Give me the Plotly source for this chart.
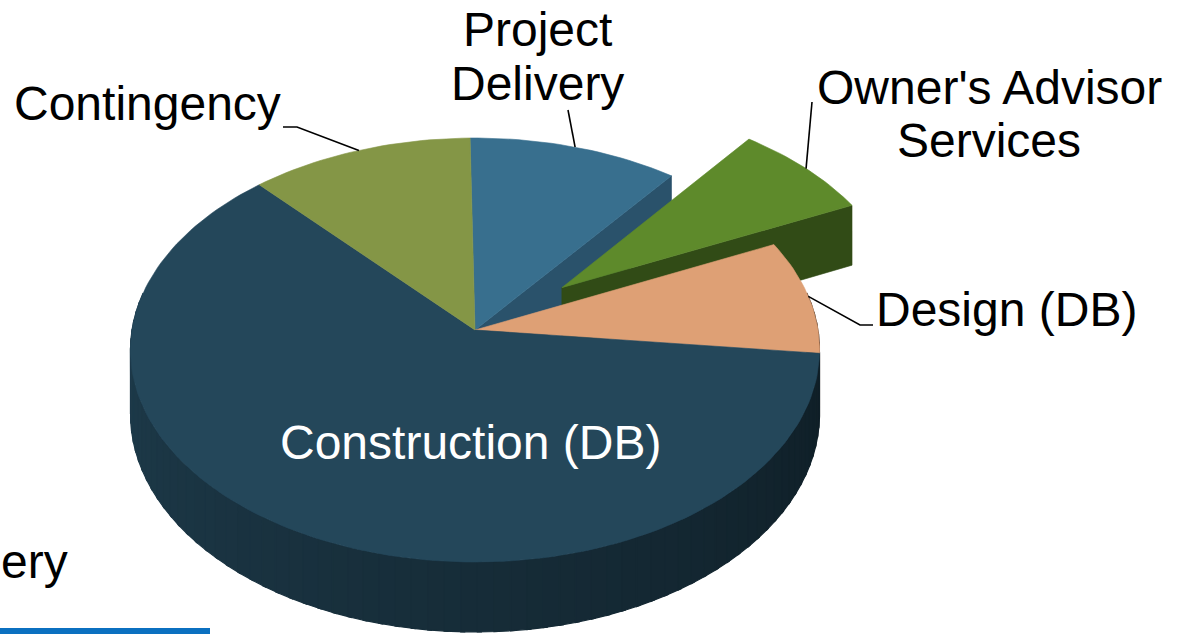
import numpy as np
import plotly.graph_objects as go

# ---------------- data ----------------
categories = ["Project Delivery", "Owner's Advisor Services", "Design (DB)",
              "Construction (DB)", "Contingency"]
shares = [10.8, 7.5, 8.7, 61.5, 11.5]          # percent of total budget
label_lines = [["Project", "Delivery"], ["Owner's Advisor", "Services"],
               ["Design (DB)"], ["Construction (DB)"], ["Contingency"]]

# ---------------- style ----------------
top_colors = ["#386f8e", "#5e8a2b", "#dea075", "#24475a", "#849646"]
face_colors = ["#2a526b", "#314b16", "#a87a58", "#1a3443", "#5f6d32"]
pulls = [0, 0.33, 0, 0, 0]
START = 90.9             # degrees, first slice edge (counter-clockwise from 3 o'clock)
CX, CY = 475.0, 330.0    # pixel position of pie centre
A, B, K, H = 343.0, 210.1, 0.0943, 63.4   # projection / depth parameters
FONT = "Liberation Sans, Arial, sans-serif"
FS = 48

label_layout = {
    "Project Delivery": dict(x=537, ys=[29.5, 83.5], leader=[(568, 110)]),
    "Owner's Advisor Services": dict(x=989, ys=[87.5, 140.5], leader=[(812, 102)]),
    "Design (DB)": dict(x=1006, ys=[309.5], leader=[(860, 325), (873, 325)]),
    "Construction (DB)": dict(x=470, ys=[442.5], leader=None, color="white"),
    "Contingency": dict(x=147, ys=[103.5], leader=[(297, 127), (283, 127)]),
}


def proj(X, Y, h=0.0):
    X = np.asarray(X, float)
    Y = np.asarray(Y, float)
    w = 1 + K * Y
    return CX + A * X / w, CY - B * Y / w + H * h / w


def arc(t0, t1, off, n=None):
    if n is None:
        n = max(3, int(abs(t1 - t0) / 1.5) + 2)
    t = np.radians(np.linspace(t0, t1, n))
    return off[0] + np.cos(t), off[1] + np.sin(t)


def shade(hexc, f):
    hexc = hexc.lstrip("#")
    r, g, b = (int(hexc[i:i + 2], 16) for i in (0, 2, 4))
    return "rgb(%d,%d,%d)" % (r * f, g * f, b * f)


fig = go.Figure()


def poly(xs, ys, color, lw=0.6):
    xs = list(xs) + [xs[0]]
    ys = list(ys) + [ys[0]]
    fig.add_trace(go.Scatter(x=xs, y=ys, mode="lines", fill="toself",
                             fillcolor=color, line=dict(color=color, width=lw),
                             hoverinfo="skip", showlegend=False))


total = float(sum(shares))
spans = []
acc = 0.0
for s in shares:
    a0 = START - acc * 360 / total
    a1 = a0 - s * 360 / total
    spans.append((a1, a0))
    acc += s
offsets = []
for (a1, a0), p in zip(spans, pulls):
    m = np.radians((a0 + a1) / 2)
    offsets.append((p * np.cos(m), p * np.sin(m)))

n = len(shares)


def radial_face(i, ang, color):
    off = offsets[i]
    t = np.radians(ang)
    X = [off[0], off[0] + np.cos(t), off[0] + np.cos(t), off[0]]
    Y = [off[1], off[1] + np.sin(t), off[1] + np.sin(t), off[1]]
    hh = [0, 0, 1, 1]
    sx, sy = zip(*[proj(x, y, h) for x, y, h in zip(X, Y, hh)])
    poly([float(v) for v in sx], [float(v) for v in sy], color)


def top_face(i):
    a1, a0 = spans[i]
    off = offsets[i]
    ax, ay = arc(a0, a1, off)
    X = np.concatenate([[off[0]], ax])
    Y = np.concatenate([[off[1]], ay])
    sx, sy = proj(X, Y, 0)
    poly(sx, sy, top_colors[i])


def outer_wall(i, t0, t1, color):
    off = offsets[i]
    ax, ay = arc(t0, t1, off)
    sx0, sy0 = proj(ax, ay, 0)
    sx1, sy1 = proj(ax, ay, 1)
    poly(np.concatenate([sx0, sx1[::-1]]), np.concatenate([sy0, sy1[::-1]]), color, lw=1.2)


# 1. exposed radial faces of fixed slices next to a pulled slice
for i in range(n):
    if pulls[i]:
        continue
    a1, a0 = spans[i]
    if pulls[(i + 1) % n] and np.cos(np.radians(a1)) > 0:
        radial_face(i, a1, face_colors[i])
    if pulls[(i - 1) % n] and np.cos(np.radians(a0)) < 0:
        radial_face(i, a0, face_colors[i])

# 2. pulled slices
for i in range(n):
    if not pulls[i]:
        continue
    a1, a0 = spans[i]
    if np.cos(np.radians(a1)) > 0:
        radial_face(i, a1, face_colors[i])
    if np.cos(np.radians(a0)) < 0:
        radial_face(i, a0, face_colors[i])
    top_face(i)

# 3. front walls of fixed slices (shaded from left to right)
FRONT = (-190.0, 10.0)
for i in range(n):
    if pulls[i]:
        continue
    a1, a0 = spans[i]
    for k in (-1, 0, 1):
        lo = max(a1 + 360 * k, FRONT[0])
        hi = min(a0 + 360 * k, FRONT[1])
        if hi <= lo:
            continue
        nseg = max(1, int((hi - lo) / 2.5))
        edges = np.linspace(lo, hi, nseg + 1)
        for s0, s1 in zip(edges[:-1], edges[1:]):
            mid = (s0 + s1) / 2
            f = 0.86 - 0.46 * (mid - FRONT[0]) / (FRONT[1] - FRONT[0])
            outer_wall(i, s0 - 0.3, s1 + 0.3, shade(top_colors[i], f))

# 4. top faces of fixed slices
for i in range(n):
    if not pulls[i]:
        top_face(i)

# 5. labels and leader lines
annotations = []
for i, cat in enumerate(categories):
    cfg = label_layout[cat]
    for line, yy in zip(label_lines[i], cfg["ys"]):
        annotations.append(dict(x=cfg["x"], y=yy, xref="x", yref="y", text=line,
                                showarrow=False, xanchor="center", yanchor="middle",
                                font=dict(family=FONT, size=FS,
                                          color=cfg.get("color", "black"))))
    if cfg["leader"]:
        a1, a0 = spans[i]
        m = np.radians((a0 + a1) / 2)
        off = offsets[i]
        px, py = proj(off[0] + np.cos(m), off[1] + np.sin(m), 0)
        xs = [float(px)] + [p[0] for p in cfg["leader"]]
        ys = [float(py)] + [p[1] for p in cfg["leader"]]
        fig.add_trace(go.Scatter(x=xs, y=ys, mode="lines",
                                 line=dict(color="black", width=1.6),
                                 hoverinfo="skip", showlegend=False))

# fragments of the surrounding slide
annotations.append(dict(x=0, y=561, xref="x", yref="y", text="ery", showarrow=False,
                        xanchor="left", yanchor="middle", xshift=-1,
                        font=dict(family=FONT, size=FS, color="black")))
shapes = [dict(type="rect", xref="x", yref="y", x0=-5, x1=210, y0=628, y1=640,
               fillcolor="#0b70c0", line=dict(width=0), layer="above")]

fig.update_layout(
    width=1182, height=634,
    margin=dict(l=0, r=0, t=0, b=0),
    paper_bgcolor="white", plot_bgcolor="white",
    xaxis=dict(range=[0, 1182], visible=False, fixedrange=True),
    yaxis=dict(range=[634, 0], visible=False, fixedrange=True),
    annotations=annotations, shapes=shapes, showlegend=False,
)

fig.write_html("out.html", config={"displayModeBar": False},
               post_script="document.body.style.margin='0';document.body.style.overflow='hidden';")
